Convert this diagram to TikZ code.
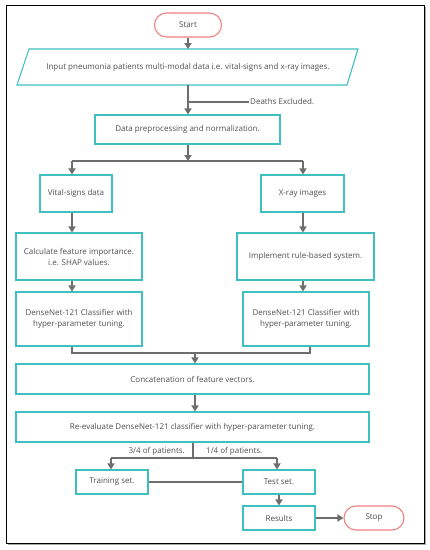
\documentclass[tikz,border=0pt]{standalone}
\usepackage{fontspec}
\setmainfont{Open Sans}
\usetikzlibrary{arrows.meta}
\definecolor{teal1}{HTML}{3FBFBF}
\definecolor{red1}{HTML}{F28080}
\definecolor{ln}{HTML}{6E6E6E}
\definecolor{tx}{HTML}{505050}
\tikzset{
  box/.style={draw=teal1, line width=1.1pt, fill=white, text=tx, align=center, inner sep=2pt,
    font=\fontsize{8}{11}\selectfont},
  term/.style={draw=red1, line width=1.1pt, fill=white, text=tx, rounded corners=12pt,
    font=\fontsize{8}{11}\selectfont},
  lbl/.style={text=tx, inner sep=1pt, font=\fontsize{8}{11}\selectfont},
  con/.style={draw=ln, line width=1.6pt},
  arr/.style={con, -{Triangle[width=7pt,length=6pt]}},
}
\begin{document}
\begin{tikzpicture}[x=1pt,y=-1pt]
\useasboundingbox (0,0) rectangle (430,550);
\fill[white] (0,0) rectangle (430,550);
% frame
\draw[black, line width=1pt] (6,5) rectangle (424,543);
\draw[gray!70, line width=1pt] (425.5,7) -- (425.5,544.5) -- (8,544.5);

% nodes
\node[term, minimum width=67pt, minimum height=24pt] (start) at (188,25) {Start};
\draw[teal1, line width=1.1pt, fill=white] (29,49) -- (358,49) -- (347,85) -- (17,85) -- cycle;
\node[lbl, minimum width=330pt, minimum height=36pt] (input) at (188,67) {Input pneumonia patients multi-modal data i.e. vital-signs and x-ray images.};
\node[box, minimum width=185pt, minimum height=29pt] (data) at (187.5,129.5) {Data preprocessing and normalization.};
\node[box, minimum width=72pt, minimum height=37pt] (vital) at (76,193.5) {Vital-signs data};
\node[box, minimum width=83pt, minimum height=37pt] (xray) at (302.5,193.5) {X-ray images};
\node[box, minimum width=126pt, minimum height=47pt] (calc) at (79,256.5) {Calculate feature importance.\\i.e. SHAP values.};
\node[box, minimum width=137pt, minimum height=47pt] (impl) at (305.5,256.5) {Implement rule-based system.};
\node[box, minimum width=126pt, minimum height=54pt] (dnL) at (79,319) {DenseNet-121 Classifier with\\hyper-parameter tuning.};
\node[box, minimum width=126pt, minimum height=54pt] (dnR) at (306,319) {DenseNet-121 Classifier with\\hyper-parameter tuning.};
\node[box, minimum width=353pt, minimum height=30pt] (concat) at (192.5,379) {Concatenation of feature vectors.};
\node[box, minimum width=353pt, minimum height=30pt] (reeval) at (192.5,427) {Re-evaluate DenseNet-121 classifier with hyper-parameter tuning.};
\node[box, minimum width=72pt, minimum height=24pt] (train) at (112,482) {Training set.};
\node[box, minimum width=72pt, minimum height=24pt] (test) at (279,482) {Test set.};
\node[box, minimum width=72pt, minimum height=24pt] (results) at (279,518) {Results};
\node[term, minimum width=60pt, minimum height=24pt] (stop) at (374,518) {Stop};

% labels
\node[lbl, anchor=west] (deaths) at (249,102) {Deaths Excluded.};
\node[lbl, anchor=east] (l34) at (186,451) {3/4 of patients.};
\node[lbl, anchor=west] (l14) at (205,451) {1/4 of patients.};

% coordinates
\coordinate (dj) at (188,102);
\coordinate (sp) at (188,161);
\coordinate (spL) at (72,161);
\coordinate (spR) at (303,161);
\coordinate (colL) at (72,0);
\coordinate (colR) at (303,0);
\coordinate (mL) at (72,353);
\coordinate (mR) at (310,353);
\coordinate (mC) at (195,353);
\coordinate (colC) at (195,0);
\coordinate (rs) at (193,458);
\coordinate (rsL) at (111,458);
\coordinate (rsR) at (277,458);

% connectors
\draw[arr] (start) -- (input.south |- 0,49);
\draw[arr] (input.south) -- (data.north -| input.south);
\draw[con] (dj) -- (deaths.west);
\draw[arr] (data.south -| sp) -- (sp);
\draw[con] (spL) -- (spR);
\draw[arr] (spL) -- (vital.north -| spL);
\draw[arr] (spR) -- (xray.north -| spR);
\draw[arr] (vital.south -| colL) -- (calc.north -| colL);
\draw[arr] (xray.south -| colR) -- (impl.north -| colR);
\draw[arr] (calc.south -| colL) -- (dnL.north -| colL);
\draw[arr] (impl.south -| colR) -- (dnR.north -| colR);
\draw[con] (dnL.south -| mL) -- (mL) -- (mR) -- (dnR.south -| mR);
\draw[arr] (mC) -- (concat.north -| mC);
\draw[arr] (concat.south -| colC) -- (reeval.north -| colC);
\draw[con] (reeval.south -| rs) -- (rs);
\draw[con] (rsL) -- (rsR);
\draw[arr] (rsL) -- (train.north -| rsL);
\draw[arr] (rsR) -- (test.north -| rsR);
\draw[con] (train.east) -- (test.west);
\draw[arr] (test.south) -- (results.north);
\draw[arr] (results.east) -- (stop.west);
\end{tikzpicture}
\end{document}
